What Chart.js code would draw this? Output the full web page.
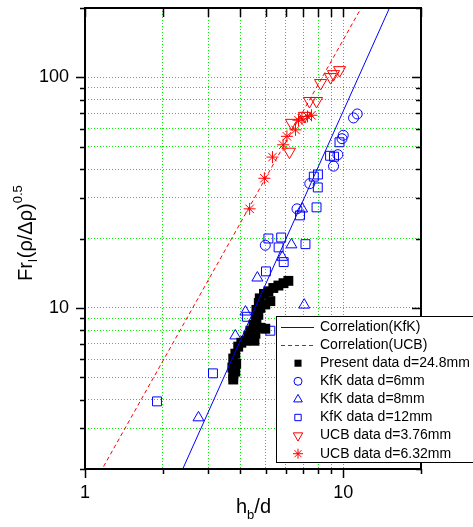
<!DOCTYPE html>
<html>
<head>
<meta charset="utf-8">
<title>Fr vs hb/d</title>
<script src="https://cdn.jsdelivr.net/npm/chart.js"></script>
<style>
  html, body { margin: 0; padding: 0; background: #fff; }
  canvas { display: block; }
</style>
</head>
<body>
<canvas id="chart" width="473" height="527"></canvas>
<script>
// correlation lines (end points)
const kfkLineX = [2.39, 15.1];
const kfkLineY = [2.0, 200];
const ucbLineX = [1.18, 11.55];
const ucbLineY = [2.05, 194];

// present data d=24.8mm
const presentX = [6.13, 5.87, 5.61, 5.36, 5.13, 4.93, 4.75, 5.22, 4.99, 4.71, 4.78, 4.61, 4.69, 4.61, 4.49,
                  4.78, 4.99, 4.37, 4.57, 4.29, 4.18, 4.03, 3.92, 4.53, 3.82, 3.75, 3.85, 3.72, 3.82, 3.75, 3.75];
const presentY = [13.1, 12.8, 12.5, 12.2, 11.8, 11.5, 11.0, 10.7, 10.35, 10.5, 10.0, 9.8, 9.33, 8.88, 8.45,
                  8.2, 8.12, 7.96, 7.72, 7.57, 7.2, 7.06, 6.79, 7.2, 6.33, 6.03, 5.73, 5.51, 5.29, 5.09, 4.89];

// KfK data d=6mm
const kfk6X = [11.33, 10.96, 10.0, 9.89, 9.53, 9.17, 7.42, 6.62, 4.99];
const kfk6Y = [69.4, 66.7, 56.1, 54.2, 46.2, 41.2, 34.6, 26.9, 18.7];

// KfK data d=8mm
const kfk8X = [6.93, 6.30, 5.81, 4.65, 7.06, 4.18, 3.82, 2.75];
const kfk8Y = [26.9, 18.8, 16.6, 13.5, 10.3, 9.61, 7.57, 3.34];

// KfK data d=12mm
const kfk12X = [9.67, 8.89, 9.21, 7.69, 7.98, 7.97, 7.88, 6.80, 5.13, 5.75, 5.62, 5.88, 5.02, 7.14, 4.24, 3.13, 5.22, 1.90];
const kfk12Y = [52.3, 45.7, 45.3, 37.1, 37.9, 33.3, 27.3, 25.2, 20.0, 20.2, 18.3, 15.8, 14.4, 18.9, 9.15, 5.2, 7.96, 3.93];

// UCB data d=3.76mm
const ucb376X = [9.68, 9.17, 8.93, 8.17, 7.88, 7.40, 6.30, 7.08, 6.19];
const ucb376Y = [107.5, 103.3, 100.3, 94.5, 79.0, 79.0, 63.5, 68.1, 47.6];

// UCB data d=6.32mm
const ucb632X = [4.34, 4.95, 5.32, 5.85, 6.05, 6.53, 6.71, 6.92, 7.27, 7.53];
const ucb632Y = [26.9, 36.5, 45.1, 51.0, 55.5, 59.2, 65.2, 66.1, 67.7, 68.5];

// axis ticks
const xTicks = [1, 2, 3, 4, 5, 6, 7, 8, 9, 10, 20];
const yTicks = [2, 3, 4, 5, 6, 7, 8, 9, 10, 20, 30, 40, 50, 60, 70, 80, 90, 100, 200];
const xLabeled = [1, 10];
const yLabeled = [10, 100];

const FONT = "Arial, 'Liberation Sans', sans-serif";
const BLUE = '#0000ff';
const RED = '#ff0000';
const GRID = '#00ee00';

const zip = (xs, ys) => xs.map((x, i) => ({ x, y: ys[i] }));

const markerSet = (label, xs, ys, style, radius, color, filled, rotation) => ({
  label,
  data: zip(xs, ys),
  pointStyle: style,
  pointRadius: radius,
  rotation: rotation || 0,
  borderColor: color,
  backgroundColor: filled ? color : 'rgba(0,0,0,0)',
  borderWidth: filled ? 0 : 1,
  showLine: false
});

const datasets = [
  {
    label: 'Correlation(KfK)', data: zip(kfkLineX, kfkLineY), showLine: true,
    borderColor: BLUE, borderWidth: 1, pointRadius: 0, fill: false
  },
  {
    label: 'Correlation(UCB)', data: zip(ucbLineX, ucbLineY), showLine: true,
    borderColor: RED, borderWidth: 1, borderDash: [4, 3], pointRadius: 0, fill: false
  },
  markerSet('Present data d=24.8mm', presentX, presentY, 'rect', 7, '#000000', true),
  markerSet('KfK data d=6mm', kfk6X, kfk6Y, 'circle', 5, BLUE, false),
  markerSet('KfK data d=8mm', kfk8X, kfk8Y, 'triangle', 6.3, BLUE, false),
  markerSet('KfK data d=12mm', kfk12X, kfk12Y, 'rect', 6.3, BLUE, false),
  markerSet('UCB data d=3.76mm', ucb376X, ucb376Y, 'triangle', 7, RED, false, 180),
  markerSet('UCB data d=6.32mm', ucb632X, ucb632Y, 'star', 6, RED, false)
];

// legend symbol look, one entry per dataset
const legendColor = [BLUE, RED, '#000000', BLUE, BLUE, BLUE, RED, RED];
const legendRadius = [0, 0, 5, 4, 5, 4.5, 5.5, 5];

function drawMarker(ctx, style, radius, rotation, x, y, fill) {
  if (Chart.helpers && Chart.helpers.drawPoint) {
    Chart.helpers.drawPoint(ctx, { pointStyle: style, radius, rotation, borderWidth: fill ? 0 : 1 }, x, y);
    return;
  }
  ctx.beginPath();
  ctx.arc(x, y, radius, 0, Math.PI * 2);
  fill ? ctx.fill() : ctx.stroke();
}

const decorations = {
  id: 'decorations',
  afterDraw(chart) {
    const { ctx, chartArea: a, scales } = chart;
    const xs = scales.x, ys = scales.y;
    ctx.save();

    // frame
    ctx.strokeStyle = '#000';
    ctx.lineWidth = 2;
    ctx.strokeRect(a.left, a.top, a.right - a.left, a.bottom - a.top);

    // tick marks: out on bottom/left, in on top/right
    ctx.lineWidth = 1.5;
    ctx.beginPath();
    xTicks.forEach(v => {
      const px = Math.round(xs.getPixelForValue(v)) + 0.5;
      const len = xLabeled.includes(v) ? 9 : 5;
      ctx.moveTo(px, a.bottom); ctx.lineTo(px, a.bottom + len);
      ctx.moveTo(px, a.top); ctx.lineTo(px, a.top + 9);
    });
    yTicks.forEach(v => {
      const py = Math.round(ys.getPixelForValue(v)) + 0.5;
      const len = yLabeled.includes(v) ? 9 : 5;
      ctx.moveTo(a.left, py); ctx.lineTo(a.left - len, py);
      ctx.moveTo(a.right, py); ctx.lineTo(a.right - len, py);
    });
    ctx.stroke();

    // x title: h_b/d
    ctx.fillStyle = '#000';
    ctx.textBaseline = 'alphabetic';
    ctx.textAlign = 'left';
    let tx = 236, ty = 513;
    ctx.font = '20px ' + FONT;
    ctx.fillText('h', tx, ty); tx += ctx.measureText('h').width;
    ctx.font = '13px ' + FONT;
    ctx.fillText('b', tx, ty + 6); tx += ctx.measureText('b').width;
    ctx.font = '20px ' + FONT;
    ctx.fillText('/d', tx, ty);

    // y title: Fr_l(rho/Delta rho)^0.5
    ctx.save();
    ctx.translate(32, 281);
    ctx.rotate(-Math.PI / 2);
    let sx = 0;
    ctx.font = '20px ' + FONT;
    ctx.fillText('Fr', sx, 0); sx += ctx.measureText('Fr').width;
    ctx.font = '13px ' + FONT;
    ctx.fillText('l', sx, 5); sx += ctx.measureText('l').width + 1;
    ctx.font = '20px ' + FONT;
    ctx.fillText('(ρ/Δρ)', sx, 0); sx += ctx.measureText('(ρ/Δρ)').width;
    ctx.font = '13px ' + FONT;
    ctx.fillText('0.5', sx, -10);
    ctx.restore();

    // legend box
    const bx = 276.5, by = 316.5, rowH = 18.1;
    ctx.fillStyle = '#fff';
    ctx.fillRect(bx, by, 220, 146);
    ctx.strokeStyle = '#000';
    ctx.lineWidth = 1;
    ctx.strokeRect(bx, by, 220, 146);

    ctx.font = '14px ' + FONT;
    ctx.textBaseline = 'middle';
    chart.data.datasets.forEach((ds, i) => {
      const cy = 327 + i * rowH;
      ctx.save();
      ctx.strokeStyle = legendColor[i];
      ctx.lineWidth = 1;
      if (ds.showLine) {
        ctx.setLineDash(ds.borderDash || []);
        ctx.beginPath();
        ctx.moveTo(281, Math.round(cy) + 0.5);
        ctx.lineTo(314, Math.round(cy) + 0.5);
        ctx.stroke();
      } else {
        const filled = ds.borderWidth === 0;
        ctx.fillStyle = filled ? legendColor[i] : 'rgba(0,0,0,0)';
        drawMarker(ctx, ds.pointStyle, legendRadius[i], ds.rotation, 298, cy, filled);
      }
      ctx.restore();
      ctx.fillStyle = '#000';
      ctx.fillText(ds.label, 320, cy);
    });

    ctx.restore();
  }
};

new Chart(document.getElementById('chart'), {
  type: 'scatter',
  data: { datasets },
  options: {
    responsive: false,
    animation: false,
    layout: { padding: { top: 6, right: 52, left: 0, bottom: 0 } },
    plugins: { legend: { display: false }, tooltip: { enabled: false } },
    scales: {
      x: {
        type: 'logarithmic',
        min: 1, max: 20,
        afterBuildTicks: s => { s.ticks = xTicks.map(v => ({ value: v })); },
        afterFit: s => { s.height = 58; s.paddingLeft = 0; s.paddingRight = 0; },
        ticks: {
          autoSkip: false, maxRotation: 0, padding: 13,
          color: '#000', font: { family: FONT, size: 18 },
          callback: v => xLabeled.includes(v) ? String(v) : ''
        },
        grid: {
          drawTicks: false, lineWidth: 1,
          color: c => (c.tick && (c.tick.value === 1 || c.tick.value === 20)) ? 'rgba(0,0,0,0)' : GRID
        },
        border: { display: false, dash: [1, 2] }
      },
      y: {
        type: 'logarithmic',
        min: 2, max: 200,
        afterBuildTicks: s => { s.ticks = yTicks.map(v => ({ value: v })); },
        afterFit: s => { s.width = 85; s.paddingTop = 0; s.paddingBottom = 0; },
        ticks: {
          autoSkip: false, padding: 16,
          color: '#000', font: { family: FONT, size: 18 },
          callback: v => yLabeled.includes(v) ? String(v) : ''
        },
        grid: {
          drawTicks: false, lineWidth: 1,
          color: c => (c.tick && (c.tick.value === 2 || c.tick.value === 200)) ? 'rgba(0,0,0,0)' : GRID
        },
        border: { display: false, dash: [1, 2] }
      }
    }
  },
  plugins: [decorations]
});
</script>
</body>
</html>
